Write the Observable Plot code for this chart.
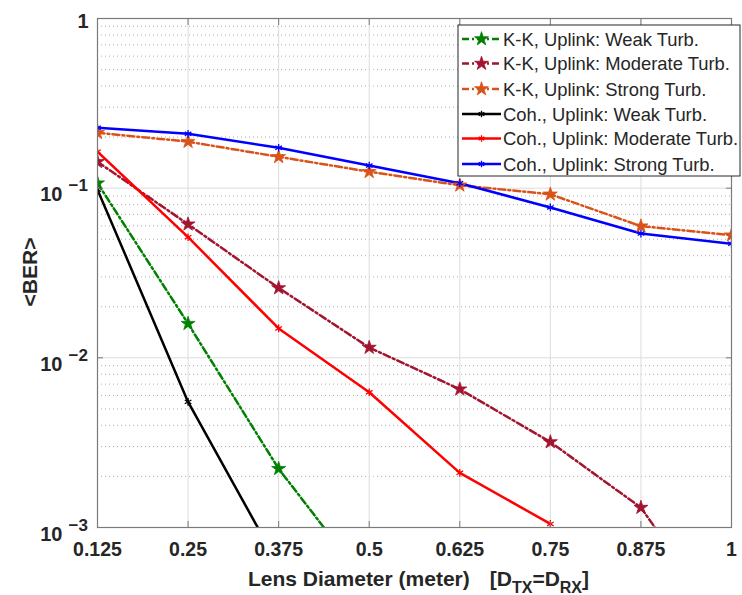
<!DOCTYPE html>
<html>
<head>
<meta charset="utf-8">
<script src="https://cdn.jsdelivr.net/npm/d3@7"></script>
<script src="https://cdn.jsdelivr.net/npm/@observablehq/plot@0.6"></script>
<style>
  html, body { margin: 0; padding: 0; background: #fff; }
  #chart { width: 742px; height: 595px; }
</style>
</head>
<body>
<div id="chart"></div>
<script>
// ---------- data ----------
const xTicks = [0.125, 0.25, 0.375, 0.5, 0.625, 0.75, 0.875, 1];
const xTickLabels = ["0.125", "0.25", "0.375", "0.5", "0.625", "0.75", "0.875", "1"];
const yDecades = [1, 0.1, 0.01, 0.001];
const yExponents = ["", "\u22121", "\u22122", "\u22123"];

const diam = [0.125, 0.25, 0.375, 0.5, 0.625, 0.75, 0.875, 1];
const kkWeak     = [0.107, 0.0159, 0.00222, 0.00045];
const kkModerate = [0.143, 0.0613, 0.0258, 0.0115, 0.00653, 0.00319, 0.00131, 0.00023];
const kkStrong   = [0.212, 0.188, 0.153, 0.125, 0.104, 0.092, 0.0597, 0.0528];
const cohWeak     = [0.098, 0.0055, 0.0006];
const cohModerate = [0.164, 0.0514, 0.0149, 0.00627, 0.0021, 0.00105];
const cohStrong   = [0.227, 0.209, 0.173, 0.136, 0.107, 0.077, 0.054, 0.047];

const seriesNames = [
  "K-K, Uplink: Weak Turb.",
  "K-K, Uplink: Moderate Turb.",
  "K-K, Uplink: Strong Turb.",
  "Coh., Uplink: Weak Turb.",
  "Coh., Uplink: Moderate Turb.",
  "Coh., Uplink: Strong Turb."
];
const seriesValues = [kkWeak, kkModerate, kkStrong, cohWeak, cohModerate, cohStrong];
const seriesColors = ["#008000", "#A2142F", "#D95319", "#000000", "#FF0000", "#0000FF"];
const seriesKK = [true, true, true, false, false, false];

// ---------- build ----------
const DASH = "7,3,2,3";
const LW = 2.5;
const FONT = "'Liberation Sans', Arial, Helvetica, sans-serif";
const TXT = "#262626";

const series = seriesNames.map((name, i) => ({
  name, color: seriesColors[i], kk: seriesKK[i],
  data: seriesValues[i].map((v, j) => ({x: diam[j], y: v}))
}));

const minorTicks = [];
for (const d of [0.001, 0.01, 0.1]) for (let k = 2; k <= 9; k++) minorTicks.push(d * k);

const marks = [
  Plot.gridY(minorTicks, {stroke: "#9a9a9a", strokeOpacity: 0.8, strokeDasharray: "1,3", strokeWidth: 1}),
  Plot.gridY(yDecades, {stroke: "#dcdcdc", strokeOpacity: 1}),
  Plot.gridX(xTicks, {stroke: "#dcdcdc", strokeOpacity: 1}),
];

for (const s of series) {
  marks.push(Plot.line(s.data, {
    x: "x", y: "y", stroke: s.color, strokeWidth: LW,
    strokeDasharray: s.kk ? DASH : null, clip: true
  }));
}
for (const s of series) {
  if (s.kk) {
    marks.push(Plot.dot(s.data, {x: "x", y: "y", symbol: "star", r: 4.4, fill: s.color, stroke: s.color, strokeWidth: 0.8, clip: true}));
  } else {
    marks.push(Plot.dot(s.data, {x: "x", y: "y", symbol: "asterisk", r: 3.6, stroke: s.color, strokeWidth: 1.3, clip: true}));
  }
}

marks.push(
  Plot.frame({stroke: "#7a7a7a", strokeWidth: 1.2}),
  Plot.axisX(xTicks, {anchor: "bottom", tickSize: -6, tickFormat: () => "", label: null, stroke: "#7a7a7a"}),
  Plot.axisX(xTicks, {anchor: "top", tickSize: -6, tickFormat: () => "", label: null, stroke: "#7a7a7a"}),
  Plot.axisY(yDecades, {anchor: "left", tickSize: -6, tickFormat: () => "", label: null, stroke: "#7a7a7a"}),
  Plot.axisY(yDecades, {anchor: "right", tickSize: -6, tickFormat: () => "", label: null, stroke: "#7a7a7a"}),
  // x tick labels
  Plot.text(xTicks, {x: d => d, frameAnchor: "bottom", dy: 28, lineAnchor: "bottom",
    text: (d, i) => xTickLabels[i], fontSize: 19.5, fontWeight: "bold", fill: TXT, fontFamily: FONT}),
  // y tick labels: "1"
  Plot.text(yDecades.filter(d => d === 1), {y: d => d, frameAnchor: "left", dx: -9, dy: 9, lineAnchor: "bottom",
    textAnchor: "end", text: () => "1", fontSize: 20, fontWeight: "bold", fill: TXT, fontFamily: FONT}),
  // y tick labels: base "10"
  Plot.text(yDecades.filter(d => d !== 1), {y: d => d, frameAnchor: "left", dx: -35, dy: 13, lineAnchor: "bottom",
    textAnchor: "end", text: () => "10", fontSize: 20, fontWeight: "bold", fill: TXT, fontFamily: FONT}),
  // y tick labels: exponent
  Plot.text(yDecades.filter(d => d !== 1), {y: d => d, frameAnchor: "left", dx: -29, dy: 3, lineAnchor: "bottom",
    textAnchor: "start", text: d => yExponents[yDecades.indexOf(d)], fontSize: 17, fontWeight: "bold", fill: TXT, fontFamily: FONT})
);

const chart = Plot.plot({
  width: 742,
  height: 595,
  marginLeft: 97,
  marginRight: 11,
  marginTop: 18,
  marginBottom: 68,
  style: {fontFamily: FONT, background: "#fff", overflow: "visible"},
  x: {domain: [0.125, 1]},
  y: {type: "log", domain: [0.001, 1]},
  marks
});

document.getElementById("chart").appendChild(chart);

// ---------- axis titles & legend ----------
const svg = d3.select(chart);

// y title
svg.append("text")
  .attr("transform", "translate(37,272) rotate(-90)")
  .attr("text-anchor", "middle")
  .attr("font-family", FONT).attr("font-size", 21).attr("font-weight", "bold")
  .attr("fill", TXT)
  .text("<BER>");

// x title
const xt = svg.append("text")
  .attr("x", 248).attr("y", 586)
  .attr("text-anchor", "start")
  .attr("font-family", FONT).attr("font-size", 21).attr("font-weight", "bold")
  .attr("fill", TXT);
xt.append("tspan").text("Lens Diameter (meter)");
xt.append("tspan").attr("dx", 20).text("[D");
xt.append("tspan").attr("dy", 7).attr("font-size", 16).text("TX");
xt.append("tspan").attr("dy", -7).text("=D");
xt.append("tspan").attr("dy", 7).attr("font-size", 16).text("RX");
xt.append("tspan").attr("dy", -7).text("]");

// legend
const lg = svg.append("g").attr("transform", "translate(458,25)");
lg.append("rect").attr("x", 0).attr("y", 0).attr("width", 282).attr("height", 151)
  .attr("fill", "#fff").attr("stroke", "#262626").attr("stroke-width", 1);
const rowY = [14, 38.5, 64, 89, 113.5, 139];
const star = d3.symbol(d3.symbolStar, 60);
const ast = d3.symbol(d3.symbolAsterisk, 30);
series.forEach((s, i) => {
  const g = lg.append("g").attr("transform", `translate(0,${rowY[i]})`);
  g.append("line").attr("x1", 4).attr("x2", 43).attr("y1", 0).attr("y2", 0)
    .attr("stroke", s.color).attr("stroke-width", LW)
    .attr("stroke-dasharray", s.kk ? DASH : null);
  if (s.kk) {
    g.append("path").attr("d", star()).attr("transform", "translate(23.5,0)")
      .attr("fill", s.color).attr("stroke", s.color).attr("stroke-width", 0.8);
  } else {
    g.append("path").attr("d", ast()).attr("transform", "translate(23.5,0)")
      .attr("fill", "none").attr("stroke", s.color).attr("stroke-width", 1.3);
  }
  g.append("text").attr("x", 45).attr("y", 6.7)
    .attr("text-anchor", "start")
    .attr("font-family", FONT).attr("font-size", 18.4).attr("fill", TXT)
    .text(s.name);
});
</script>
</body>
</html>
